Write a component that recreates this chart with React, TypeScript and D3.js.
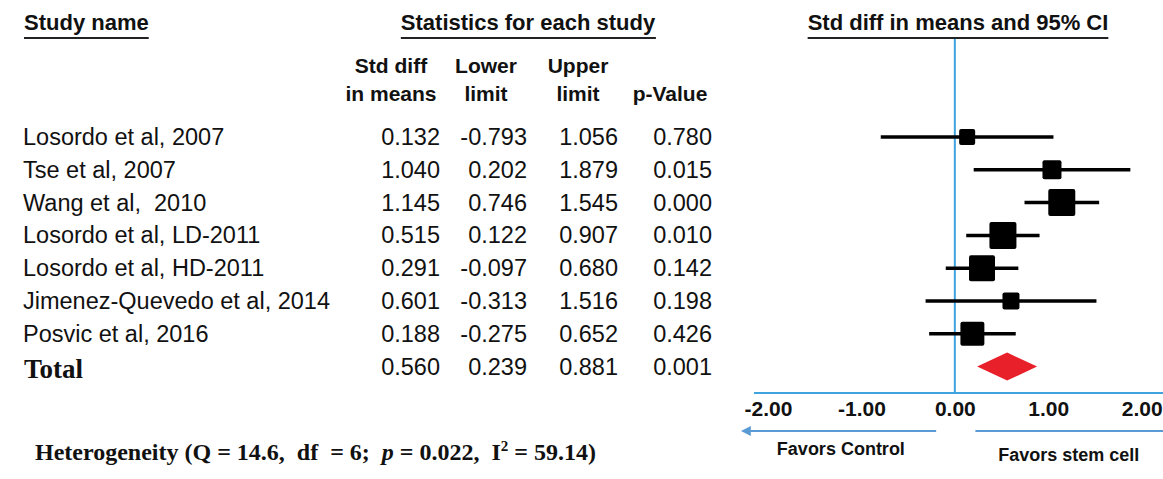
import { useEffect, useRef } from "react";
import * as d3 from "d3";

const studies = [
  "Losordo et al, 2007",
  "Tse et al, 2007",
  "Wang et al,  2010",
  "Losordo et al, LD-2011",
  "Losordo et al, HD-2011",
  "Jimenez-Quevedo et al, 2014",
  "Posvic et al, 2016",
];
const stdDiff = [0.132, 1.04, 1.145, 0.515, 0.291, 0.601, 0.188];
const lowerLimit = [-0.793, 0.202, 0.746, 0.122, -0.097, -0.313, -0.275];
const upperLimit = [1.056, 1.879, 1.545, 0.907, 0.68, 1.516, 0.652];
const pValues = [0.78, 0.015, 0.0, 0.01, 0.142, 0.198, 0.426];
// relative weights (%)
const weights = [7.1, 10.0, 20.2, 20.2, 18.7, 8.0, 15.9];
const totalStats = [0.56, 0.239, 0.881, 0.001];
const tickValues = [-2, -1, 0, 1, 2];

const W = 1163;
const H = 479;
const BLUE = "#3fa3e0";
const SANS = "'Liberation Sans', Arial, sans-serif";
const SERIF = "'Liberation Serif', 'Times New Roman', serif";

export default function App() {
  const svgRef = useRef<SVGSVGElement>(null);

  useEffect(() => {
    const svg = d3.select(svgRef.current);
    svg.selectAll("*").remove();

    const x = d3.scaleLinear().domain([-2.15, 2.25]).range([754, 1165]);
    const rows = [...studies, "Total"];
    const y = d3.scalePoint<string>().domain(rows).range([137, 366.6]);
    const size = d3.scaleSqrt().domain([0, d3.max(weights)!]).range([0, 27]);

    // headers
    const underline = (t: d3.Selection<SVGTextElement, unknown, null, undefined>) => {
      const b = (t.node() as SVGTextElement).getBBox();
      svg
        .append("line")
        .attr("x1", b.x)
        .attr("x2", b.x + b.width)
        .attr("y1", 38)
        .attr("y2", 38)
        .attr("stroke", "#222")
        .attr("stroke-width", 2);
    };
    const heads: [string, number, string][] = [
      ["Study name", 24, "start"],
      ["Statistics for each study", 528, "middle"],
      ["Std diff in means and 95% CI", 958, "middle"],
    ];
    heads.forEach(([txt, hx, anchor]) => {
      const t = svg
        .append("text")
        .attr("x", hx)
        .attr("y", 30)
        .attr("text-anchor", anchor)
        .attr("font-family", SANS)
        .attr("font-weight", "bold")
        .attr("font-size", 22)
        .attr("fill", "#111")
        .text(txt);
      underline(t);
    });

    const subHeads: [string, string, number][] = [
      ["Std diff", "in means", 391],
      ["Lower", "limit", 486],
      ["Upper", "limit", 578],
      ["", "p-Value", 670],
    ];
    subHeads.forEach(([l1, l2, hx]) => {
      const g = svg
        .append("g")
        .attr("font-family", SANS)
        .attr("font-weight", "bold")
        .attr("font-size", 21)
        .attr("text-anchor", "middle")
        .attr("fill", "#111");
      g.append("text").attr("x", hx).attr("y", 73).text(l1);
      g.append("text").attr("x", hx).attr("y", 101).text(l2);
    });

    // table
    const colRight = [440, 527, 618, 712];
    const table = svg
      .append("g")
      .attr("font-family", SANS)
      .attr("font-size", 23.5)
      .attr("fill", "#111");
    studies.forEach((name, i) => {
      const cy = y(name)! + 8;
      table
        .append("text")
        .attr("x", 23)
        .attr("y", cy)
        .style("white-space", "pre")
        .text(name);
      [stdDiff[i], lowerLimit[i], upperLimit[i], pValues[i]].forEach((v, j) => {
        table
          .append("text")
          .attr("x", colRight[j])
          .attr("y", cy)
          .attr("text-anchor", "end")
          .text(v.toFixed(3));
      });
    });
    const ty = y("Total")!;
    svg
      .append("text")
      .attr("x", 24)
      .attr("y", ty + 11)
      .attr("font-family", SERIF)
      .attr("font-weight", "bold")
      .attr("font-size", 27)
      .attr("fill", "#111")
      .text("Total");
    totalStats.forEach((v, j) => {
      table
        .append("text")
        .attr("x", colRight[j])
        .attr("y", ty + 8)
        .attr("text-anchor", "end")
        .text(v.toFixed(3));
    });

    // heterogeneity
    const het = svg
      .append("text")
      .attr("x", 35)
      .attr("y", 460)
      .attr("font-family", SERIF)
      .attr("font-weight", "bold")
      .attr("font-size", 24)
      .attr("fill", "#111")
      .style("white-space", "pre");
    het.append("tspan").text("Heterogeneity (Q = 14.6,  df  = 6;  ");
    het.append("tspan").attr("font-style", "italic").text("p");
    het.append("tspan").text(" = 0.022,  I");
    het.append("tspan").attr("font-size", 15).attr("dy", -9).text("2");
    het.append("tspan").attr("dy", 9).text(" = 59.14)");

    // plot: reference line at zero
    const axisY = 393;
    svg
      .append("line")
      .attr("x1", x(0))
      .attr("x2", x(0))
      .attr("y1", 39)
      .attr("y2", axisY)
      .attr("stroke", BLUE)
      .attr("stroke-width", 2);

    // confidence intervals
    const plot = svg.append("g");
    plot
      .selectAll("line.ci")
      .data(studies)
      .join("line")
      .attr("class", "ci")
      .attr("x1", (_, i) => x(lowerLimit[i]))
      .attr("x2", (_, i) => x(upperLimit[i]))
      .attr("y1", (d) => y(d)!)
      .attr("y2", (d) => y(d)!)
      .attr("stroke", "#000")
      .attr("stroke-width", 3.5);
    plot
      .selectAll("rect")
      .data(studies)
      .join("rect")
      .attr("x", (_, i) => x(stdDiff[i]) - size(weights[i]) / 2)
      .attr("y", (d, i) => y(d)! - size(weights[i]) / 2)
      .attr("width", (_, i) => size(weights[i]))
      .attr("height", (_, i) => size(weights[i]))
      .attr("rx", 2)
      .attr("fill", "#000");

    // summary diamond
    const [tMean, tLow, tHigh] = totalStats;
    plot
      .append("path")
      .attr(
        "d",
        `M${x(tLow)},${ty} L${x(tMean)},${ty - 14} L${x(tHigh)},${ty} L${x(tMean)},${ty + 14} Z`
      )
      .attr("fill", "#e8202a");

    // axis
    const axis = svg
      .append("g")
      .attr("transform", `translate(0,${axisY})`)
      .call(
        d3
          .axisBottom(x)
          .tickValues(tickValues)
          .tickFormat((d) => (d as number).toFixed(2))
          .tickSize(0)
          .tickPadding(8)
      );
    axis.select(".domain").remove();
    axis
      .selectAll("text")
      .attr("font-family", SANS)
      .attr("font-weight", "bold")
      .attr("font-size", 21)
      .attr("fill", "#111");
    axis
      .append("line")
      .attr("x1", x.range()[0])
      .attr("x2", W)
      .attr("stroke", BLUE)
      .attr("stroke-width", 2);

    // favors arrows
    svg
      .append("defs")
      .append("marker")
      .attr("id", "arrow")
      .attr("viewBox", "0 0 10 10")
      .attr("refX", 8)
      .attr("refY", 5)
      .attr("markerWidth", 5)
      .attr("markerHeight", 5)
      .attr("orient", "auto")
      .append("path")
      .attr("d", "M0,0 L10,5 L0,10 Z")
      .attr("fill", "#5b9bd5");
    const arrowY = 431;
    svg
      .append("line")
      .attr("x1", x(-0.2))
      .attr("x2", x(-2.27))
      .attr("y1", arrowY)
      .attr("y2", arrowY)
      .attr("stroke", "#5b9bd5")
      .attr("stroke-width", 2)
      .attr("marker-end", "url(#arrow)");
    svg
      .append("line")
      .attr("x1", x(0.22))
      .attr("x2", x(2.35))
      .attr("y1", arrowY)
      .attr("y2", arrowY)
      .attr("stroke", "#5b9bd5")
      .attr("stroke-width", 2)
      .attr("marker-end", "url(#arrow)");
    const fav = svg
      .append("g")
      .attr("font-family", SANS)
      .attr("font-weight", "bold")
      .attr("font-size", 18)
      .attr("fill", "#111")
      .attr("text-anchor", "middle");
    fav.append("text").attr("x", x(-1.22)).attr("y", 455).text("Favors Control");
    fav.append("text").attr("x", x(1.22)).attr("y", 461).text("Favors stem cell");
  }, []);

  return (
    <svg
      ref={svgRef}
      width={W}
      height={H}
      style={{ position: "absolute", left: 0, top: 0, background: "#fff" }}
    />
  );
}
